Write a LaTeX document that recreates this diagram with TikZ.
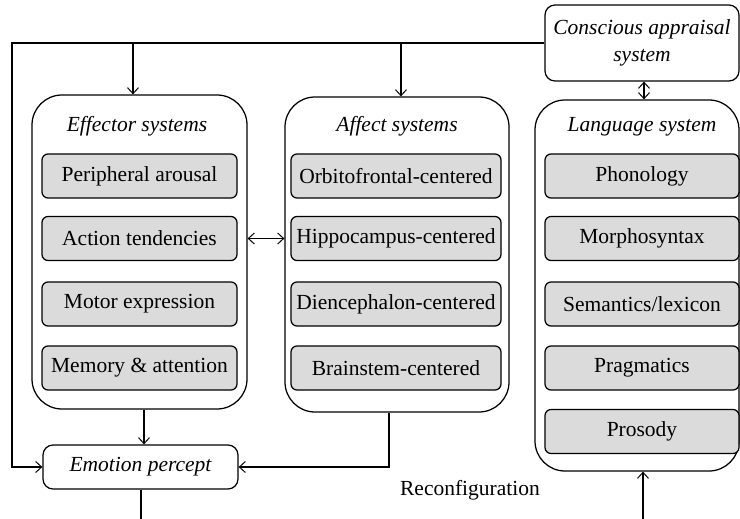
\documentclass[tikz,border=0pt]{standalone}
\usepackage{fontspec}
\setmainfont{Liberation Serif}
\usetikzlibrary{arrows.meta}
\begin{document}
\begin{tikzpicture}[x=1pt,y=-1pt,
  every node/.style={font=\fontsize{21.5}{25}\selectfont},
  outer/.style={draw,line width=1.25pt,rounded corners=30pt,inner sep=0pt},
  inner/.style={draw,line width=1.25pt,rounded corners=6pt,fill=black!14,inner sep=0pt,minimum height=44pt},
  plainbox/.style={draw,line width=1.25pt,rounded corners=10pt,inner sep=0pt},
  title/.style={font=\fontsize{21.5}{25}\selectfont\itshape},
  conn/.style={line width=1.15pt},
  arr/.style={conn,-{Straight Barb[length=6pt,width=11pt,line width=1pt]}},
  darr/.style={conn,{Straight Barb[length=6pt,width=11pt,line width=1pt]}-{Straight Barb[length=6pt,width=11pt,line width=1pt]}}
]
\useasboundingbox (0,0) rectangle (740,519);
% outer containers
\node[outer,minimum width=215pt,minimum height=314pt] (eff) at (139.5,252) {};
\node[outer,minimum width=224pt,minimum height=315pt] (aff) at (397,254.5) {};
\node[outer,minimum width=204pt,minimum height=371pt] (lang) at (637,285.5) {};
\node[plainbox,minimum width=194pt,minimum height=76pt,align=center,font=\fontsize{21.5}{27}\selectfont\itshape] (cons) at (642,43) {Conscious appraisal\\system};
\node[plainbox,minimum width=195pt,minimum height=44pt,font=\fontsize{21.5}{25}\selectfont\itshape] (emo) at (140.5,467) {Emotion percept};
% titles
\node[title] (efft) at (137,126) {Effector systems};
\node[title] (afft) at (397,126) {Affect systems};
\node[title] (langt) at (642,127) {Language system};
% effector items
\node[inner,minimum width=195pt] (e1) at (139.5,176) {Peripheral arousal};
\node[inner,minimum width=195pt] (e2) at (139.5,238.5) {Action tendencies};
\node[inner,minimum width=195pt] (e3) at (139.5,304) {Motor expression};
\node[inner,minimum width=195pt] (e4) at (139.5,368) {Memory \& attention};
% affect items
\node[inner,minimum width=210pt] (a1) at (396,176) {Orbitofrontal-centered};
\node[inner,minimum width=210pt] (a2) at (396,238.5) {Hippocampus-centered};
\node[inner,minimum width=210pt] (a3) at (396,304) {Diencephalon-centered};
\node[inner,minimum width=210pt] (a4) at (396,368) {Brainstem-centered};
% language items
\node[inner,minimum width=194pt] (l1) at (642,176) {Phonology};
\node[inner,minimum width=194pt] (l2) at (642,238.5) {Morphosyntax};
\node[inner,minimum width=194pt] (l3) at (642,304) {Semantics/lexicon};
\node[inner,minimum width=194pt] (l4) at (642,368) {Pragmatics};
\node[inner,minimum width=194pt] (l5) at (642,431.5) {Prosody};
% label
\node (reconf) at (470,490) {Reconfiguration};
% coordinates
\coordinate (tl) at (12,43);
\coordinate (te) at (133,43);
\coordinate (ta) at (401,43);
\coordinate (bl) at (12,467);
\coordinate (ab) at (389,467);
\coordinate (emob) at (141,519);
\coordinate (langb) at (643,519);
% connectors
\draw[arr] (cons.west) -- (tl) -- (bl) -- (emo.west);
\draw[arr] (te) -- (te |- eff.north);
\draw[arr] (ta) -- (ta |- aff.north);
\draw[darr] (eff.east |- e2) -- (aff.west |- e2);
\draw[darr] (cons.south -| 644,0) -- (644,0 |- lang.north);
\draw[arr] (144,0 |- eff.south) -- (144,0 |- emo.north);
\draw[arr] (ab |- aff.south) -- (ab) -- (emo.east);
\draw[conn] (emo.south -| emob) -- (emob);
\draw[arr] (langb) -- (langb |- lang.south);
\end{tikzpicture}
\end{document}
